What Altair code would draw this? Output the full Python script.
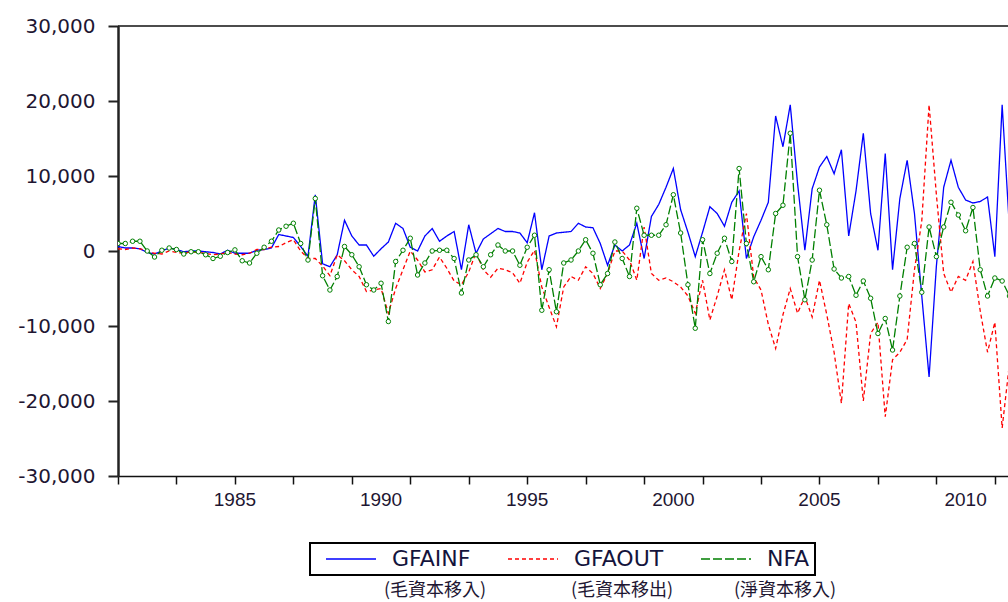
import altair as alt
import pandas as pd

# ---- data (quarterly, 1981Q1 onward) ----
gfainf = [600, 400, 400, 300, -200, -400, 0, 400, 200, -100, 0, 0, -100, -200, -400, 100,
          -300, -300, -300, 100, 200, 400, 2200, 2000, 1800, 600, -700, 7500, -1700, -2100, -500, 4100,
          2000, 800, 800, -700, 300, 1200, 3700, 3000, 500, 0, 2000, 3000, 1300, 2000, 2600, -2500,
          3500, -300, 1600, 2300, 3000, 2600, 2600, 2400, 1100, 5100, -2500, 2000, 2400, 2500, 2600, 3700,
          3200, 3100, 1000, -1900, 800, 0, 800, 3700, -1000, 4600, 6200, 8500, 11000, 5500, 2500, -750,
          2500, 5900, 5000, 3300, 6500, 8000, -1000, 1900, 4100, 6500, 18000, 13900, 19500, 9000, 100, 8300,
          11200, 12600, 10300, 13500, 2000, 8000, 15700, 5000, 100, 13000, -2500, 7000, 12100, 5000, -6000, -16800,
          -2000, 8500, 12100, 8500, 6800, 6400, 6600, 7200, -750, 19500, 3000]
gfaout = [300, 200, 400, 300, 0, -300, -400, 0, -200, -300, -100, -200, -300, -500, -400, -200,
          -400, -500, -300, 200, 200, 500, 600, 1100, 1500, 0, -1000, -1000, -2000, -3300, -500, -1300,
          -2500, -3400, -5400, -5200, -5000, -8300, -5000, -2500, 0, -1200, -2800, -2500, -800, -2300, -4000, -4500,
          -2800, -200, -2500, -3500, -2300, -2500, -2900, -4300, -1500, 100, -4800, -7500, -10100, -4800, -3400, -3900,
          -2100, -3000, -5000, -3000, 0, 0, -1200, -3900, 3200, -3000, -3900, -3600, -4100, -4800, -6000, -8300,
          -3900, -9200, -6000, -2500, -6500, 0, 5000, -3500, -5200, -9800, -13000, -8500, -5000, -8300, -6100, -8800,
          -3900, -8500, -13500, -20300, -7000, -9500, -20000, -11000, -9500, -22100, -14500, -13500, -11800, -2500, 4000, 19500,
          7500, -3000, -5500, -3400, -3900, -1400, -8000, -13500, -9500, -23600, -15000]
nfa = [1000, 1000, 1300, 1300, 0, -800, 100, 400, 200, -400, -100, -100, -500, -1000, -700, -200,
       150, -1300, -1600, -300, 500, 1300, 2800, 3300, 3700, 1000, -1200, 7000, -3300, -5200, -3400, 600,
       -500, -2100, -4500, -5200, -4300, -9400, -1400, 100, 1700, -3200, -1600, 0, 100, 100, -1000, -5600,
       -1200, -500, -2100, -500, 800, 0, 0, -1900, 500, 2100, -7900, -2500, -8100, -1600, -1200, 0,
       1500, -300, -4500, -3000, 1200, -1000, -3400, 5700, 2100, 2100, 2100, 3500, 7500, 2400, -4500, -10300,
       1500, -3000, -300, 1700, -1400, 11000, 1000, -4100, -750, -2500, 5000, 6100, 15700, -750, -6500, -1200,
       8100, 3500, -2400, -3600, -3400, -5900, -4000, -6300, -11000, -9000, -13200, -6000, 500, 1000, -5500, 3200,
       -750, 3200, 6500, 4800, 2700, 5800, -2500, -6000, -3600, -4000, -6000]

series_names = ["GFAINF", "GFAOUT", "NFA"]
sub_labels = ["(毛資本移入)", "(毛資本移出)", "(淨資本移入)"]
series_colors = ["#0000ff", "#ff0000", "#007f00"]
y_ticks = [-30000, -20000, -10000, 0, 10000, 20000, 30000]
x_years = list(range(1981, 2012))
x_label_years = [1985, 1990, 1995, 2000, 2005, 2010]

periods = [(yr, q) for yr in range(1981, 2013) for q in range(1, 5)][:len(gfainf)]
t_vals = [yr + (q - 1) / 4 for yr, q in periods]

rows = []
for name, vals in zip(series_names, [gfainf, gfaout, nfa]):
    for tv, v in zip(t_vals, vals):
        rows.append({"t": tv, "value": v, "series": name})
df = pd.DataFrame(rows)
df_xlab = pd.DataFrame({"t": x_label_years, "label": [str(v) for v in x_label_years]})

W, H = 890, 450
label_color = "#1e1632"

x_enc = alt.X("t:Q", title=None,
              scale=alt.Scale(domain=[1981, 2011.45], nice=False, zero=False),
              axis=alt.Axis(values=x_years, grid=False, labels=False,
                            tickSize=8, tickWidth=1.5, tickColor="#111",
                            domainColor="#111", domainWidth=1.5))
y_enc = alt.Y("value:Q", title=None,
              scale=alt.Scale(domain=[-30000, 30000], nice=False, zero=False),
              axis=alt.Axis(values=y_ticks, grid=False,
                            labelExpr="(datum.value < 0 ? '-' : '') + format(abs(datum.value), ',')",
                            labelFont="DejaVu Sans", labelFontSize=20, labelColor=label_color,
                            labelPadding=13, tickSize=10, tickWidth=2, tickColor="#222",
                            domainColor="#222", domainWidth=2.5, labelFlush=False, labelOverlap=False))

legend = alt.Legend(orient="none", legendX=192, legendY=517, direction="horizontal", title=None,
                    symbolType="M0,0H5", symbolSize=400, symbolStrokeWidth=1.5,
                    labelFont="DejaVu Sans", labelFontSize=22, labelColor="#14143c",
                    strokeColor="black", padding=5, columnPadding=26, labelOffset=55,
                    columns=3)

lines = alt.Chart(df).mark_line(clip=True, strokeWidth=1.3).encode(
    x=x_enc, y=y_enc,
    color=alt.Color("series:N", scale=alt.Scale(domain=series_names, range=series_colors), legend=legend),
    strokeDash=alt.StrokeDash("series:N",
                              scale=alt.Scale(domain=series_names, range=[[1, 0], [4, 3], [9, 3]]),
                              legend=legend),
)

points = alt.Chart(df).transform_filter(alt.datum.series == "NFA").mark_point(
    shape="circle", filled=True, fill="white", stroke="#007f00", strokeWidth=1, size=20,
    opacity=1, clip=True
).encode(x="t:Q", y="value:Q")

x_labels = alt.Chart(df_xlab).mark_text(
    font="Liberation Sans", fontSize=19, color=label_color, align="center", baseline="middle"
).encode(x="t:Q", y=alt.value(H + 24), text="label:N")

dummy = pd.DataFrame({"a": [0]})
top_line = alt.Chart(dummy).mark_rule(color="#111", strokeWidth=1.5).encode(
    x=alt.value(0), x2=alt.value(W), y=alt.value(0))

sub_x = [317, 504, 667]
subs = [alt.Chart(dummy).mark_text(text=lab, font="Noto Sans CJK TC", fontSize=18,
                                   color=label_color, align="center", baseline="middle").encode(
    x=alt.value(px), y=alt.value(565)) for lab, px in zip(sub_labels, sub_x)]

chart = alt.layer(lines, points, x_labels, top_line, *subs).properties(
    width=W, height=H,
    autosize=alt.AutoSizeParams(type="none"),
    padding={"left": 118, "top": 26, "right": 0, "bottom": 126},
).configure_view(stroke=None).configure_legend(strokeWidth=2)

chart.save("out.html", embed_options={"renderer": "svg", "actions": False})
